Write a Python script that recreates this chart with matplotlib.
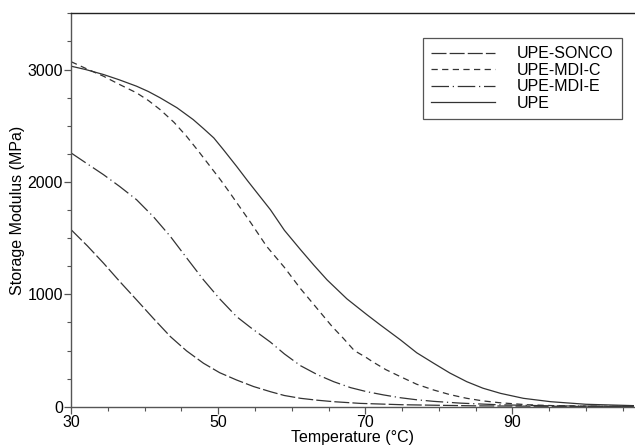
import matplotlib
matplotlib.use("Agg")
import matplotlib.pyplot as plt
from matplotlib.ticker import MultipleLocator

plt.rcParams['font.family'] = ['Liberation Sans', 'DejaVu Sans']

# temperatures (°C) and storage modulus (MPa)
t_upe = [30, 32, 34.4, 36.5, 38.9, 40.5, 42.1, 44.4, 46.6, 48, 49.4, 50.7, 52.5, 54, 55.3, 57.1, 59, 61.2,
         63, 64.8, 67.5, 70.2, 72, 74.8, 77, 79.3, 81.5, 83.8, 86, 88.4, 91.5, 95.2, 100, 106.5]
e_upe = [3030, 3000, 2956, 2910, 2852, 2805, 2749, 2660, 2555, 2475, 2392, 2288, 2139, 2010, 1902, 1753, 1570, 1397,
         1260, 1129, 960, 820, 730, 594, 480, 387, 300, 223, 165, 119, 75, 45, 22, 10]

t_mdic = [30, 32, 34.4, 36.5, 38.9, 40.5, 42.1, 44, 45.7, 47.3, 48.9, 50.3, 51.6, 52.1, 54.4, 56.6, 59, 61.2,
          63.5, 65.5, 67, 68.5, 69.5, 70.2, 71, 72.8, 74.8, 77, 79.3, 81.5, 83.8, 86, 88.4, 92, 96, 100, 106.5]
e_mdic = [3070, 3010, 2941, 2870, 2793, 2725, 2644, 2530, 2406, 2275, 2139, 2020, 1902, 1855, 1640, 1426, 1240, 1050,
          870, 713, 610, 500, 462, 435, 400, 330, 267, 200, 149, 108, 75, 52, 35, 18, 9, 5, 3]

t_mdie = [30, 32, 34.4, 36.6, 38.9, 41.2, 43.5, 45.7, 48, 50.2, 52.5, 54.4, 55.7, 57.1, 59, 61.2, 63.5, 65.7,
          68, 70.2, 72.5, 74.8, 77, 79.3, 83, 88, 95, 106.5]
e_mdie = [2258, 2170, 2065, 1960, 1842, 1690, 1515, 1325, 1129, 960, 802, 705, 642, 575, 470, 365, 285, 223,
          170, 134, 105, 80, 62, 48, 32, 18, 8, 3]

t_sonco = [30, 32.2, 34.4, 36.6, 38.9, 41.2, 43.5, 45.7, 48, 50.2, 52.5, 54.8, 57.1, 59, 61.2, 63.5, 65.7,
           69.3, 75, 85, 95, 106.5]
e_sonco = [1575, 1432, 1278, 1115, 951, 785, 624, 497, 387, 303, 238, 180, 134, 100, 75, 58, 45,
           30, 18, 8, 4, 2]

labels = ['UPE-SONCO', 'UPE-MDI-C', 'UPE-MDI-E', 'UPE']

fig = plt.figure(figsize=(6.35, 4.46), dpi=100)
ax = fig.add_axes([0.112, 0.088, 0.886, 0.882])

lc = '#333333'
lw = 0.9
ax.plot(t_sonco, e_sonco, color=lc, lw=lw, dashes=(12, 2.5), label=labels[0])
ax.plot(t_mdic, e_mdic, color=lc, lw=lw, dashes=(5, 3.5), label=labels[1])
ax.plot(t_mdie, e_mdie, color=lc, lw=lw, dashes=(14, 3, 1, 3), label=labels[2])
ax.plot(t_upe, e_upe, color=lc, lw=lw, label=labels[3])

ax.set_xlim(30, 106.5)
ax.set_ylim(0, 3500)
ax.set_xticks([30, 50, 70, 90])
ax.xaxis.set_minor_locator(MultipleLocator(5))
ax.yaxis.set_major_locator(MultipleLocator(1000))
ax.yaxis.set_minor_locator(MultipleLocator(250))

axc = '#555555'
for s in ['left', 'bottom']:
    ax.spines[s].set_color(axc)
    ax.spines[s].set_linewidth(1.0)
ax.spines['top'].set_color('#222222')
ax.spines['top'].set_linewidth(1.0)
ax.spines['right'].set_visible(False)
ax.tick_params(which='major', direction='out', length=5, width=0.9, color=axc, labelsize=11.5, pad=1)
ax.tick_params(which='minor', direction='out', length=3, width=0.8, color=axc)
ax.tick_params(top=False, right=False, which='both')

ax.set_xlabel('Temperature (°C)', fontsize=11.5, labelpad=0)
ax.set_ylabel('Storage Modulus (MPa)', fontsize=11.5, labelpad=2)

leg = ax.legend(loc='upper left', bbox_to_anchor=(0.625, 0.937), borderaxespad=0,
                fontsize=11.5, handlelength=4.0, handletextpad=1.4, labelspacing=0.1,
                fancybox=False, framealpha=1, edgecolor='#555555', borderpad=0.5)
leg.get_frame().set_linewidth(0.9)

fig.savefig('out.png', dpi=100)
